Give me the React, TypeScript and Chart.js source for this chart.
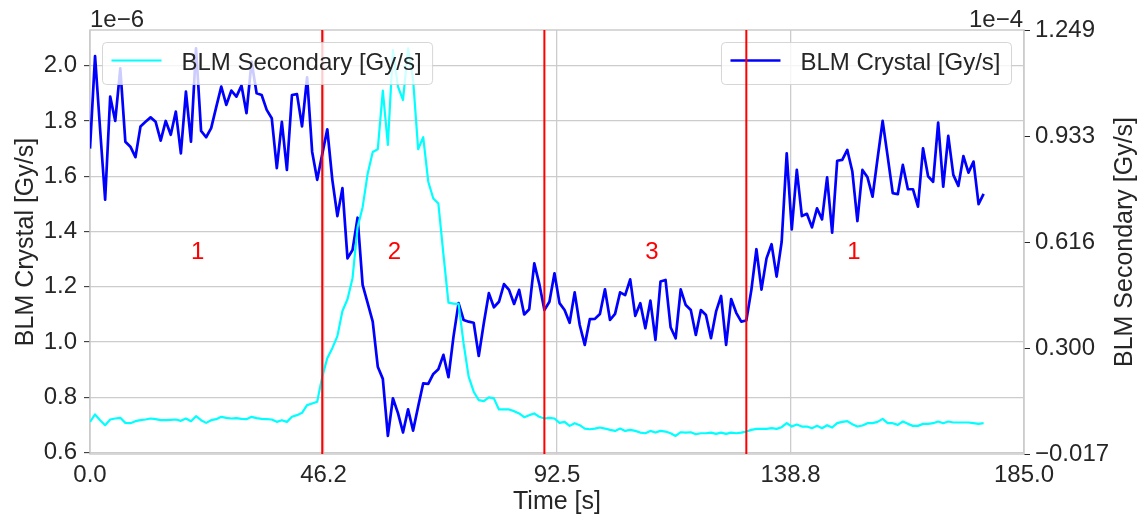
import React, { useEffect, useRef } from "react";
import { Chart, registerables } from "chart.js";

Chart.register(...registerables);

// ---- data (left axis in units of 1e-6 Gy/s, right axis in units of 1e-4 Gy/s) ----
const TIME_STEP_S = 1;

const CRYSTAL: number[] = [
  1.70, 2.035, 1.77, 1.515, 1.888, 1.80, 1.99, 1.725, 1.707, 1.669,
  1.78, 1.797, 1.813, 1.797, 1.729, 1.80, 1.75, 1.834, 1.683, 1.906,
  1.725, 2.063, 1.764, 1.741, 1.774, 1.85, 1.924, 1.858, 1.91, 1.888,
  1.928, 1.828, 2.015, 1.90, 1.894, 1.84, 1.81, 1.629, 1.797, 1.623,
  1.894, 1.897, 1.78, 1.958, 1.689, 1.587, 1.68, 1.77, 1.587, 1.456,
  1.557, 1.303, 1.333, 1.45, 1.207, 1.141, 1.074, 0.911, 0.867, 0.661,
  0.797, 0.743, 0.673, 0.757, 0.68, 0.767, 0.851, 0.849, 0.885, 0.902,
  0.954, 0.873, 1.02, 1.141, 1.08, 1.074, 1.07, 0.95, 1.068, 1.177,
  1.126, 1.146, 1.21, 1.189, 1.138, 1.189, 1.10, 1.119, 1.285, 1.21,
  1.116, 1.146, 1.249, 1.141, 1.116, 1.07, 1.18, 1.062, 0.99, 1.083,
  1.084, 1.102, 1.191, 1.08, 1.102, 1.18, 1.17, 1.227, 1.095, 1.141,
  1.05, 1.15, 1.008, 1.219, 1.225, 1.054, 1.014, 1.191, 1.134, 1.116,
  1.026, 1.116, 1.098, 1.014, 1.11, 1.167, 0.99, 1.156, 1.106, 1.074,
  1.078, 1.189, 1.336, 1.19, 1.303, 1.354, 1.237, 1.363, 1.683, 1.408,
  1.623, 1.456, 1.464, 1.415, 1.484, 1.444, 1.596, 1.396, 1.656, 1.659,
  1.695, 1.617, 1.438, 1.623, 1.596, 1.526, 1.665, 1.80, 1.671, 1.539,
  1.535, 1.641, 1.553, 1.553, 1.49, 1.701, 1.60, 1.58, 1.794, 1.562,
  1.746, 1.605, 1.565, 1.673, 1.613, 1.653, 1.499, 1.536,
];

const SECONDARY: number[] = [
  0.079, 0.101, 0.084, 0.069, 0.086, 0.089, 0.091, 0.076, 0.075, 0.081,
  0.084, 0.086, 0.089, 0.087, 0.084, 0.084, 0.085, 0.086, 0.082, 0.089,
  0.081, 0.096, 0.084, 0.076, 0.084, 0.087, 0.094, 0.091, 0.089, 0.090,
  0.088, 0.087, 0.094, 0.090, 0.088, 0.087, 0.086, 0.079, 0.084, 0.079,
  0.094, 0.099, 0.106, 0.129, 0.134, 0.139, 0.214, 0.269, 0.299, 0.335,
  0.410, 0.445, 0.508, 0.660, 0.720, 0.820, 0.885, 0.893, 1.068, 0.906,
  1.189, 1.080, 1.040, 1.194, 1.100, 0.893, 0.929, 0.796, 0.746, 0.731,
  0.580, 0.435, 0.432, 0.431, 0.313, 0.214, 0.169, 0.144, 0.141, 0.152,
  0.149, 0.116, 0.116, 0.116, 0.111, 0.104, 0.093, 0.099, 0.104, 0.094,
  0.089, 0.091, 0.089, 0.076, 0.079, 0.067, 0.075, 0.069, 0.059, 0.057,
  0.059, 0.062, 0.059, 0.055, 0.052, 0.059, 0.052, 0.055, 0.052, 0.047,
  0.045, 0.052, 0.047, 0.052, 0.050, 0.045, 0.037, 0.048, 0.047, 0.048,
  0.042, 0.045, 0.045, 0.047, 0.043, 0.047, 0.043, 0.047, 0.045, 0.047,
  0.050, 0.055, 0.058, 0.058, 0.058, 0.060, 0.058, 0.063, 0.075, 0.065,
  0.071, 0.065, 0.065, 0.060, 0.067, 0.060, 0.069, 0.062, 0.075, 0.079,
  0.081, 0.072, 0.065, 0.068, 0.075, 0.075, 0.079, 0.088, 0.075, 0.075,
  0.070, 0.080, 0.073, 0.067, 0.067, 0.073, 0.073, 0.075, 0.080, 0.075,
  0.080, 0.077, 0.077, 0.077, 0.077, 0.075, 0.073, 0.075,
];

const X_RANGE = [0, 185];
const X_TICKS = [0, 46.25, 92.5, 138.75, 185];
const X_TICK_LABELS = ["0.0", "46.2", "92.5", "138.8", "185.0"];

const LEFT_RANGE = [0.5953, 2.129];
const LEFT_TICKS = [0.6, 0.8, 1.0, 1.2, 1.4, 1.6, 1.8, 2.0];
const LEFT_TICK_LABELS = ["0.6", "0.8", "1.0", "1.2", "1.4", "1.6", "1.8", "2.0"];

const RIGHT_RANGE = [-0.017, 1.249];
const RIGHT_TICKS = [-0.017, 0.2995, 0.616, 0.9325, 1.249];
const RIGHT_TICK_LABELS = ["\u22120.017", "0.300", "0.616", "0.933", "1.249"];

const PHASE_BOUNDARIES = [46, 90, 130];
const PHASE_LABELS = ["1", "2", "3", "1"];
const PHASE_LABEL_X = [20, 59, 110, 150];
const PHASE_LABEL_Y = 1.3;

const LABEL_CRYSTAL = "BLM Crystal [Gy/s]";
const LABEL_SECONDARY = "BLM Secondary [Gy/s]";
const X_TITLE = "Time [s]";
const LEFT_OFFSET_TEXT = "1e\u22126";
const RIGHT_OFFSET_TEXT = "1e\u22124";

// ---- styles ----
const FONT_FAMILY = '"Liberation Sans", Arial, sans-serif';
const TEXT_COLOR = "#262626";
const GRID_COLOR = "#cccccc";
const CRYSTAL_COLOR = "#0000ff";
const SECONDARY_COLOR = "#00ffff";
const PHASE_COLOR = "#ff0000";
const W = 1140;
const H = 519;

function font(size: number) {
  return `${size}px ${FONT_FAMILY}`;
}

function drawLegendBox(ctx: CanvasRenderingContext2D, label: string, color: string, width: number, anchor: "left" | "right", area: any) {
  ctx.save();
  ctx.font = font(24);
  const tw = ctx.measureText(label).width;
  const boxW = 9 + 50 + 20 + tw + 11;
  const top = area.top + 12.5;
  const h = 42;
  const left = anchor === "left" ? area.left + 12.5 : area.right - 12.5 - boxW;
  const r = 4;
  ctx.beginPath();
  ctx.moveTo(left + r, top);
  ctx.lineTo(left + boxW - r, top);
  ctx.arcTo(left + boxW, top, left + boxW, top + r, r);
  ctx.lineTo(left + boxW, top + h - r);
  ctx.arcTo(left + boxW, top + h, left + boxW - r, top + h, r);
  ctx.lineTo(left + r, top + h);
  ctx.arcTo(left, top + h, left, top + h - r, r);
  ctx.lineTo(left, top + r);
  ctx.arcTo(left, top, left + r, top, r);
  ctx.closePath();
  ctx.fillStyle = "rgba(255,255,255,0.8)";
  ctx.fill();
  ctx.strokeStyle = "rgba(204,204,204,0.8)";
  ctx.lineWidth = 1;
  ctx.stroke();
  const cy = top + 18;
  ctx.beginPath();
  ctx.moveTo(left + 9, cy);
  ctx.lineTo(left + 59, cy);
  ctx.strokeStyle = color;
  ctx.lineWidth = width;
  ctx.stroke();
  ctx.fillStyle = TEXT_COLOR;
  ctx.textAlign = "left";
  ctx.textBaseline = "alphabetic";
  ctx.fillText(label, left + 79, top + 27.5);
  ctx.restore();
}

const overlayPlugin = {
  id: "overlay",
  beforeDatasetsDraw(chart: any) {
    const { ctx, chartArea } = chart;
    ctx.save();
    ctx.strokeStyle = GRID_COLOR;
    ctx.lineWidth = 1.5;
    ctx.strokeRect(chartArea.left, chartArea.top, chartArea.right - chartArea.left, chartArea.bottom - chartArea.top);
    ctx.restore();
  },
  afterDatasetDraw(chart: any, args: any) {
    const { ctx, chartArea, scales } = chart;
    if (args.index === 1) {
      drawLegendBox(ctx, LABEL_CRYSTAL, CRYSTAL_COLOR, 2.7, "right", chartArea);
    }
    if (args.index === 0) {
      ctx.save();
      ctx.strokeStyle = PHASE_COLOR;
      ctx.lineWidth = 2;
      PHASE_BOUNDARIES.forEach((t) => {
        const x = scales.x.getPixelForValue(t);
        ctx.beginPath();
        ctx.moveTo(x, chartArea.top);
        ctx.lineTo(x, chartArea.bottom);
        ctx.stroke();
      });
      ctx.fillStyle = PHASE_COLOR;
      ctx.font = font(24);
      ctx.textAlign = "left";
      ctx.textBaseline = "alphabetic";
      PHASE_LABELS.forEach((lab, i) => {
        ctx.fillText(lab, scales.x.getPixelForValue(PHASE_LABEL_X[i]), scales.y.getPixelForValue(PHASE_LABEL_Y));
      });
      ctx.restore();
      drawLegendBox(ctx, LABEL_SECONDARY, SECONDARY_COLOR, 2.2, "left", chartArea);
    }
  },
  afterDraw(chart: any) {
    const { ctx, chartArea } = chart;
    ctx.save();
    ctx.fillStyle = TEXT_COLOR;
    ctx.font = font(24);
    ctx.textBaseline = "alphabetic";
    // offset texts
    ctx.textAlign = "left";
    ctx.fillText(LEFT_OFFSET_TEXT, chartArea.left, 27);
    ctx.textAlign = "right";
    ctx.fillText(RIGHT_OFFSET_TEXT, chartArea.right - 1, 27);
    // x title
    ctx.textAlign = "center";
    ctx.font = font(25);
    ctx.fillText(X_TITLE, (chartArea.left + chartArea.right) / 2, 509);
    const cy = (chartArea.top + chartArea.bottom) / 2;
    // left title
    ctx.save();
    ctx.translate(33, cy);
    ctx.rotate(-Math.PI / 2);
    ctx.fillText(LABEL_CRYSTAL, 0, 0);
    ctx.restore();
    // right title
    ctx.save();
    ctx.translate(1132, cy);
    ctx.rotate(-Math.PI / 2);
    ctx.fillText(LABEL_SECONDARY, 0, 0);
    ctx.restore();
    ctx.restore();
  },
};

export default function App() {
  const canvasRef = useRef<HTMLCanvasElement | null>(null);

  useEffect(() => {
    const canvas = canvasRef.current;
    if (!canvas) return;
    const tickFont = { family: FONT_FAMILY, size: 24 };
    const chart = new Chart(canvas, {
      type: "line",
      data: {
        datasets: [
          {
            label: LABEL_SECONDARY,
            data: SECONDARY.map((v, i) => ({ x: i * TIME_STEP_S, y: v })),
            yAxisID: "y2",
            borderColor: SECONDARY_COLOR,
            backgroundColor: SECONDARY_COLOR,
            borderWidth: 2.2,
            pointRadius: 0,
            tension: 0,
            borderJoinStyle: "round",
            order: 1,
          },
          {
            label: LABEL_CRYSTAL,
            data: CRYSTAL.map((v, i) => ({ x: i * TIME_STEP_S, y: v })),
            yAxisID: "y",
            borderColor: CRYSTAL_COLOR,
            backgroundColor: CRYSTAL_COLOR,
            borderWidth: 2.7,
            pointRadius: 0,
            tension: 0,
            borderJoinStyle: "round",
            order: 2,
          },
        ],
      },
      options: {
        responsive: false,
        animation: false,
        events: [],
        layout: { padding: { top: 30, left: 0, right: 0, bottom: 0 } },
        plugins: { legend: { display: false }, tooltip: { enabled: false }, title: { display: false } },
        scales: {
          x: {
            type: "linear",
            position: "bottom",
            min: X_RANGE[0],
            max: X_RANGE[1],
            afterBuildTicks: (s: any) => {
              s.ticks = X_TICKS.map((v) => ({ value: v }));
            },
            afterFit: (s: any) => {
              s.height = 65;
            },
            ticks: {
              callback: (_v: any, i: number) => X_TICK_LABELS[i],
              font: tickFont,
              color: TEXT_COLOR,
              padding: 7,
              autoSkip: false,
              maxRotation: 0,
              minRotation: 0,
            },
            grid: { color: GRID_COLOR, lineWidth: 1.3, drawTicks: false },
            border: { display: false },
          },
          y: {
            type: "linear",
            position: "left",
            min: LEFT_RANGE[0],
            max: LEFT_RANGE[1],
            afterBuildTicks: (s: any) => {
              s.ticks = LEFT_TICKS.map((v) => ({ value: v }));
            },
            afterFit: (s: any) => {
              s.width = 90;
            },
            ticks: {
              callback: (_v: any, i: number) => LEFT_TICK_LABELS[i],
              font: tickFont,
              color: TEXT_COLOR,
              padding: 7,
              autoSkip: false,
            },
            grid: { color: GRID_COLOR, lineWidth: 1.3, drawTicks: true, tickLength: 6, tickColor: TEXT_COLOR, tickWidth: 1 },
            border: { display: false },
          },
          y2: {
            type: "linear",
            position: "right",
            min: RIGHT_RANGE[0],
            max: RIGHT_RANGE[1],
            afterBuildTicks: (s: any) => {
              s.ticks = RIGHT_TICKS.map((v) => ({ value: v }));
            },
            afterFit: (s: any) => {
              s.width = 116;
            },
            ticks: {
              callback: (_v: any, i: number) => RIGHT_TICK_LABELS[i],
              font: tickFont,
              color: TEXT_COLOR,
              padding: 5,
              autoSkip: false,
            },
            grid: { drawOnChartArea: false, drawTicks: true, tickLength: 6, tickColor: TEXT_COLOR, tickWidth: 1 },
            border: { display: false },
          },
        },
      } as any,
      plugins: [overlayPlugin],
    });
    return () => chart.destroy();
  }, []);

  return (
    <div style={{ position: "fixed", left: 0, top: 0, width: W, height: H, background: "#ffffff" }}>
      <canvas ref={canvasRef} width={W} height={H} style={{ display: "block", width: W, height: H }} />
    </div>
  );
}
